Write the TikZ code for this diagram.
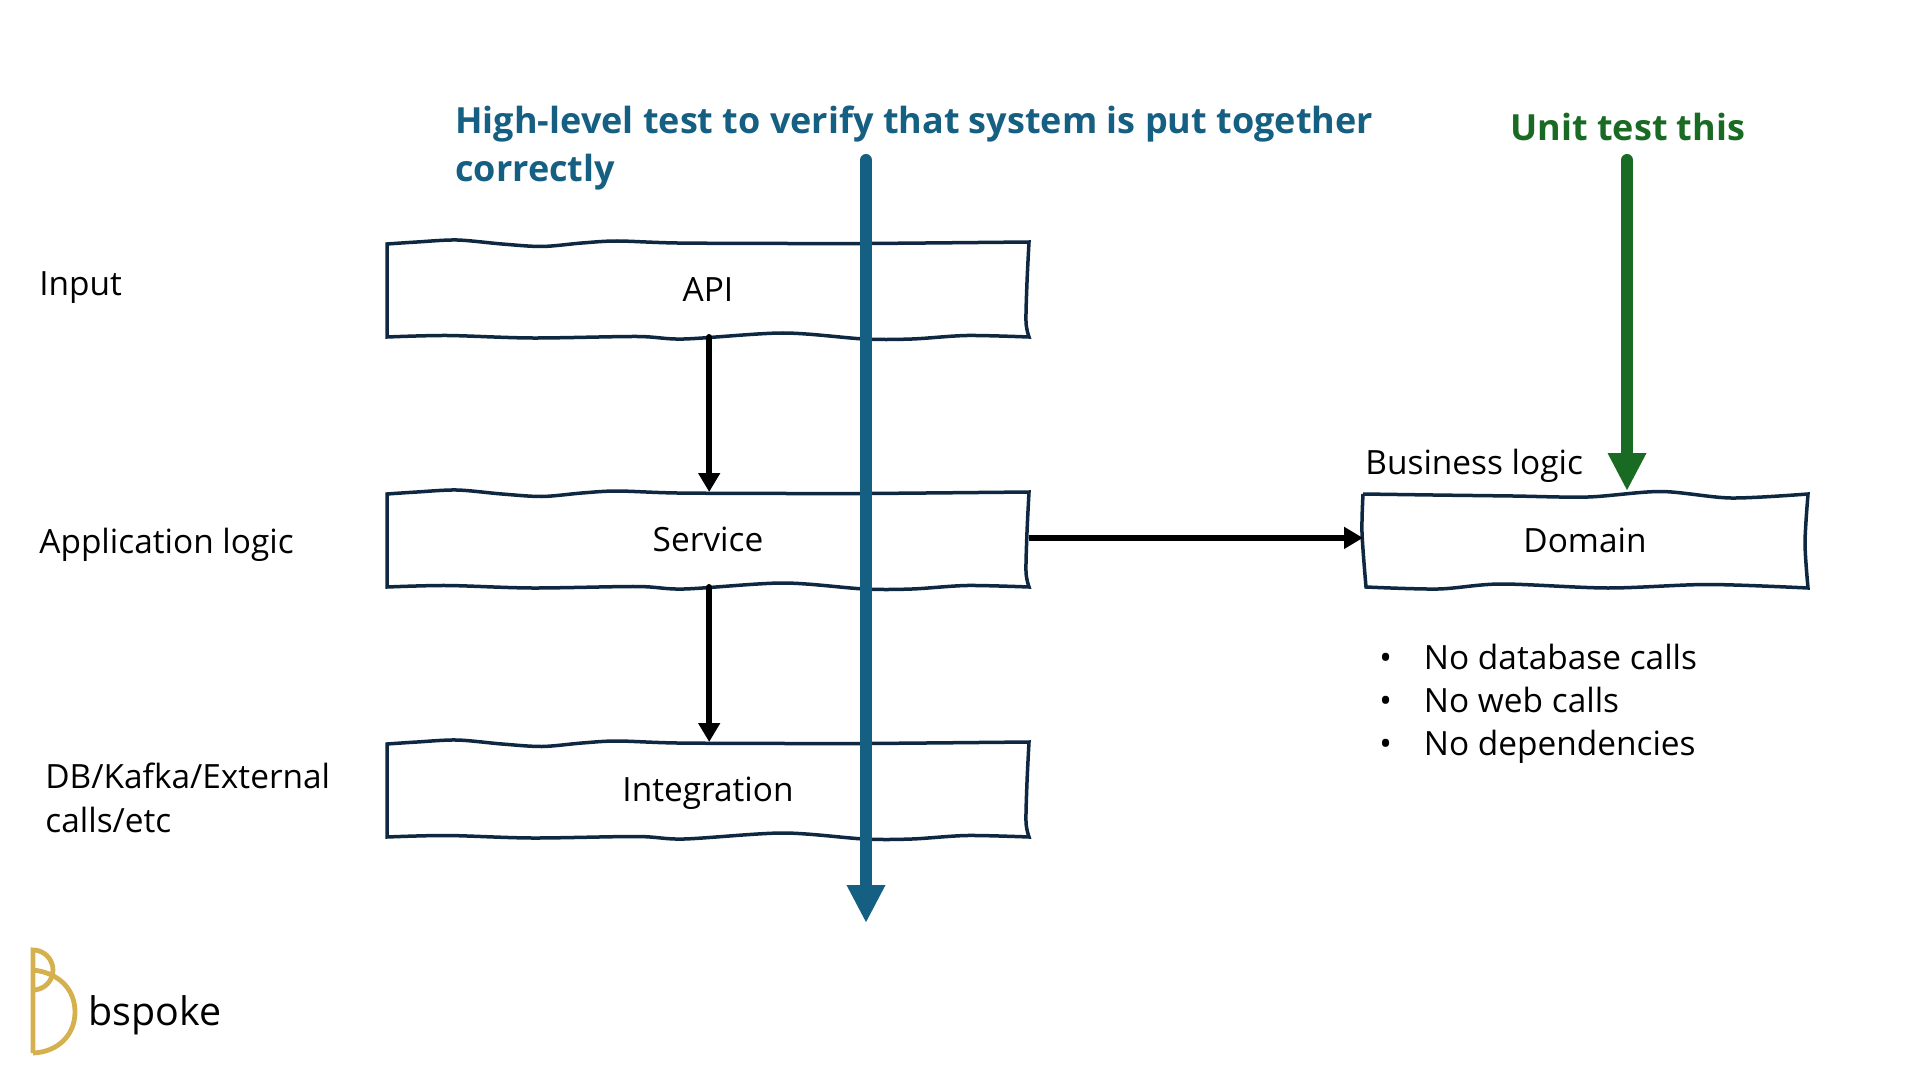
\documentclass[tikz,border=0pt]{standalone}
\usepackage{xcolor}
\usepackage{fontspec}
\setmainfont{Open Sans}
\usetikzlibrary{
  arrows.meta,
  positioning,
  calc
}
\definecolor{bsBlue}{HTML}{156082}
\definecolor{bsGreen}{HTML}{196B24}
\definecolor{bsInk}{HTML}{0E2841}
\definecolor{bsGold}{HTML}{D4B04F}
\tikzset{
  layerbox/.style={
    minimum width=321pt, minimum height=47.5pt, inner sep=0pt, outer sep=0pt,
    text height=11.6pt, text depth=0pt,
    font=\fontsize{16.7}{19}\selectfont, align=center
  },
  domainbox/.style={layerbox, minimum width=222pt},
  boxline/.style={draw=bsInk, line width=1.75pt, line join=miter},
  sidelabel/.style={anchor=west, inner sep=0pt, font=\fontsize{16.7}{22}\selectfont, align=left},
  headline/.style={anchor=west, inner sep=0pt, font=\fontsize{18}{24}\selectfont\bfseries, align=left},
  callflow/.style={-{Triangle[length=9.5pt, width=10.5pt]}, line width=3pt, line cap=round, black},
  testflow/.style={-{Triangle[length=19pt, width=18pt]}, line width=6pt, line cap=round},
  logoline/.style={draw=bsGold, line width=2.4pt}
}
% hand drawn outline shared by the three left boxes
\newcommand{\wobblebox}[1]{%
  \draw[boxline, shift={(#1.north west)}]
    plot[smooth] coordinates {(0,2) (30,0) (70,-2) (115,2) (155,4.5) (195,1) (230,-1) (290,1) (400,1.5) (480,1.5) (642,0)}
    -- plot[smooth] coordinates {(642,0) (640,40) (639,80) (642,95)}
    -- plot[smooth] coordinates {(642,95) (580,93.5) (525,97) (477,97) (396,91) (297,97) (250,94.5) (145,96) (60,93.5) (0,95)}
    -- cycle;
}
\begin{document}
\begin{tikzpicture}[x=0.5pt, y=-0.5pt, node distance=77.5pt]
  \useasboundingbox (0,0) rectangle (1920,1080);
  \node[layerbox, anchor=north west] (api) at (387,242) {API};
  \node[layerbox, below=of api] (service) {Service};
  \node[layerbox, below=of service] (integration) {Integration};
  \node[domainbox, right=167pt of service, yshift=-0.5pt] (domain) {Domain};
  \wobblebox{api}
  \wobblebox{service}
  \wobblebox{integration}
  \draw[boxline, shift={(domain.north west)}]
    plot[smooth] coordinates {(0,1) (70,2) (150,3) (225,4) (298,-1.5) (368,5) (445,1)}
    -- plot[smooth] coordinates {(445,1) (442,50) (445,95)}
    -- plot[smooth] coordinates {(445,95) (345,91.5) (245,95) (138,91) (75,96) (3,94)}
    -- plot[smooth] coordinates {(3,94) (-1,40) (0,1)};

  \node[sidelabel] (input) at (39,288) {Input};
  \node[sidelabel] (applogic) at (39,545) {Application logic};
  \node[sidelabel] (extcalls) at (45,798) {DB/Kafka/External\\calls/etc};
  \node[sidelabel, font=\fontsize{16.7}{21.5}\selectfont] (rules) at (1379,704) {•\hspace{16pt}No database calls\\•\hspace{16pt}No web calls\\•\hspace{16pt}No dependencies};
  \node[sidelabel] (bizlogic) at (1365,466) {Business logic};
  \node[headline, text=bsBlue] (hightitle) at (455,148) {High-level test to verify that system is put together\\correctly};
  \node[headline, text=bsGreen] (unittitle) at (1510,127) {Unit test this};

  \coordinate (highstart) at (866,160);
  \coordinate (highend) at (866,923);
  \coordinate (unitstart) at (1627,160);
  \draw[callflow] ([xshift=0.6pt]api.south) -- ([xshift=0.6pt]service.north);
  \draw[callflow] ([xshift=0.6pt]service.south) -- ([xshift=0.6pt]integration.north);
  \draw[callflow, line cap=butt] ([yshift=0.8pt]service.east) -- ([yshift=0.8pt]service.east -| domain.west);
  \draw[testflow, bsBlue] (highstart) -- (highend);
  \draw[testflow, bsGreen, shorten >=1pt] (unitstart) -- (unitstart |- domain.north);

  % logo
  \draw[logoline] (33,1053) -- (33,950) arc[start angle=-90, end angle=90, radius=20];
  \draw[logoline] (33,970) .. controls (60,973) and (75,990) .. (75,1012) .. controls (75,1035) and (58,1052) .. (33,1053);
  \node[anchor=base west, inner sep=0pt, font=\fontsize{19.7}{24}\selectfont] (logotext) at (88,1025) {bspoke};
\end{tikzpicture}
\end{document}
